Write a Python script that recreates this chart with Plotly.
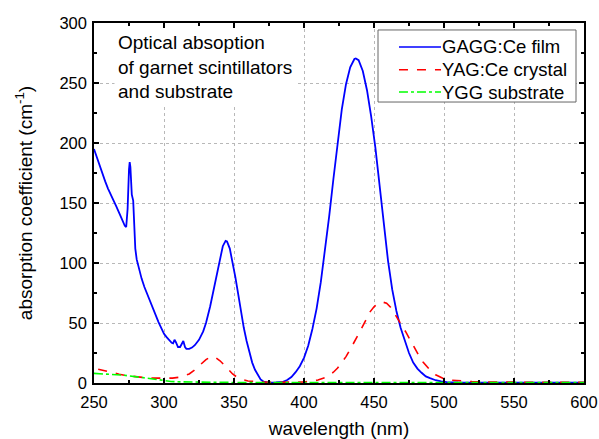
import plotly.graph_objects as go

# GAGG:Ce film
gagg_wl = [250, 252, 255, 258, 260, 263, 266, 269, 271, 272, 273, 274, 275, 275.5, 276, 276.5, 277, 278, 279, 279.5,
           280.5, 282, 284, 286, 288, 290, 292, 294, 296, 298, 300, 302, 304, 305.5, 306.5, 307.5, 308.5, 310, 311.5,
           313, 313.8, 315, 316, 318, 320, 322, 325, 328, 330, 333, 336, 338, 340, 342, 344, 345, 347, 349, 351, 353,
           355, 357, 359, 361, 363, 365, 367, 369, 371, 373, 375, 380, 385, 388, 391, 394, 397, 400, 403, 406, 409,
           412, 415, 418, 421, 424, 427, 430, 433, 436, 437, 439, 442, 445, 448, 451, 454, 456, 458, 460, 463, 466,
           469, 472, 475, 478, 481, 484, 487, 490, 494, 498, 502, 510, 530, 560, 600]
gagg_val = [195, 188, 178, 168, 162, 155, 147, 139, 134, 131, 130, 145, 178, 184, 180, 165, 157, 152, 130, 112,
            103, 95, 87, 80, 74, 68, 62, 56, 51, 46, 41, 38, 35, 33.5, 33, 36, 34, 30, 30,
            33, 35, 30, 28.5, 28.5, 29.5, 31.5, 36, 43, 50, 64, 80, 92, 104, 114, 118.5, 118, 112, 101, 88, 74,
            59, 46, 35, 25, 17, 11, 6.5, 3, 1.2, 0.5, 0.3, 0.4, 1, 2.5, 5, 9, 14, 21, 31, 45, 62,
            84, 110, 139, 170, 201, 228, 249, 263, 270, 270.5, 269, 260, 244, 222, 196, 166, 145, 124, 102, 78, 60,
            46, 35, 25, 17, 12, 8.5, 5.5, 4, 2.3, 1.3, 0.8, 0.5, 0.3, 0.2, 0.2]

# YAG:Ce crystal
yag_wl = [253, 258, 263, 268, 273, 278, 285, 292, 300, 306, 311, 315, 318, 321, 324, 327, 330, 333, 335, 337, 340,
          343, 346, 349, 352, 356, 360, 365, 370, 380, 390, 400, 405, 410, 415, 418, 421, 424, 427, 430, 433, 436,
          440, 444, 447, 450, 453, 456, 459, 462, 465, 468, 470, 473, 476, 479, 482, 485, 488, 491, 494, 497, 500,
          505, 510, 520, 530, 550, 575, 600]
yag_val = [11.5, 10, 8.5, 7.3, 6.2, 5.3, 4.6, 4.1, 3.9, 4.1, 4.8, 6, 7.5, 10, 13, 16.5, 19.5, 21.5, 22, 21, 18.5,
           15, 11, 7.5, 5, 2.8, 1.7, 1.1, 0.8, 0.6, 0.6, 0.8, 1.5, 2.5, 4.5, 6.5, 9, 12.5, 17, 22, 28, 35,
           43, 52, 59, 63.5, 66.5, 67.5, 66.5, 63, 57.5, 52, 48, 42, 35.5, 29, 23, 17.5, 13, 9.5, 6.8, 4.8, 3.5,
           2.4, 1.8, 1.2, 0.9, 0.6, 0.5, 0.5]

# YGG substrate
ygg_wl = [250, 255, 260, 265, 270, 275, 280, 285, 290, 295, 300, 305, 310, 320, 340, 370, 400, 450, 500, 550, 600]
ygg_val = [8, 7.8, 7.4, 7, 6.6, 6.0, 5.2, 4.2, 3.3, 2.5, 1.8, 1.3, 1.0, 0.7, 0.5, 0.4, 0.4, 0.4, 0.3, 0.3, 0.3]

series_names = ["GAGG:Ce film", "YAG:Ce crystal", "YGG substrate"]
series_colors = ["#0000FF", "#FF0000", "#00FF00"]
series_dash = ["solid", "dash", "dashdot"]

x_ticks = [250, 300, 350, 400, 450, 500, 550, 600]
y_ticks = [0, 50, 100, 150, 200, 250, 300]

FONT = "Arial, Liberation Sans, sans-serif"

fig = go.Figure()
for xs, ys, nm, col, dsh, w in zip([gagg_wl, yag_wl, ygg_wl], [gagg_val, yag_val, ygg_val],
                                   series_names, series_colors, series_dash, [1.8, 1.6, 1.6]):
    fig.add_trace(go.Scatter(x=xs, y=ys, mode="lines", name=nm, showlegend=False,
                             line=dict(color=col, width=w, dash=dsh)))

axis_common = dict(
    showline=True, linecolor="black", linewidth=1.5, mirror="allticks",
    ticks="inside", ticklen=5, tickwidth=1.5, tickcolor="black",
    showgrid=True, gridcolor="#b8b8b8", griddash="dot", gridwidth=1,
    zeroline=False, automargin=False,
    tickfont=dict(family=FONT, size=16.5, color="black"),
)

fig.update_xaxes(
    range=[250, 600], tickvals=x_ticks, ticklabelstandoff=3,
    minor=dict(ticks="inside", ticklen=3, tickwidth=1.5, tickcolor="black", dtick=25, tick0=250, showgrid=False),
    title=dict(text="wavelength (nm)", font=dict(family=FONT, size=19, color="black"), standoff=12),
    **axis_common)
fig.update_yaxes(
    range=[0, 300], tickvals=y_ticks, ticklabelstandoff=2,
    minor=dict(ticks="inside", ticklen=3, tickwidth=1.5, tickcolor="black", dtick=25, tick0=0, showgrid=False),
    title=dict(text="absorption coefficient (cm<sup>-1</sup>)", font=dict(family=FONT, size=19, color="black"),
               standoff=22),
    **axis_common)

fig.add_annotation(
    x=0.040, y=0.985, xref="paper", yref="paper", xanchor="left", yanchor="top",
    text="Optical absoption<br>of garnet scintillators<br>and substrate",
    showarrow=False, align="left", bgcolor="white", borderpad=3,
    font=dict(family=FONT, size=19, color="black"))

# custom legend box (paper coords of plot area)
fig.add_shape(type="rect", xref="paper", yref="paper", x0=0.5796, x1=0.9837, y0=0.7805, y1=0.9806,
              fillcolor="white", line=dict(color="#666666", width=1), layer="above")
legend_y = [0.9334, 0.8703, 0.8083]
for nm, col, dsh, ly in zip(series_names, series_colors, series_dash, legend_y):
    fig.add_shape(type="line", xref="paper", yref="paper", x0=0.6224, x1=0.7082, y0=ly, y1=ly,
                  line=dict(color=col, width=1.6, dash=dsh), layer="above")
    fig.add_annotation(x=0.7072, y=ly, xref="paper", yref="paper", xanchor="left", yanchor="middle",
                       text=nm, showarrow=False, borderpad=0,
                       font=dict(family=FONT, size=18.5, color="black"))

fig.update_layout(
    width=599, height=439,
    margin=dict(l=94, r=15, t=23, b=56, autoexpand=False),
    plot_bgcolor="white", paper_bgcolor="white",
    showlegend=False,
)

fig.write_html("out.html", config={"displayModeBar": False},
               post_script="document.body.style.margin='0';document.body.style.overflow='hidden';")
